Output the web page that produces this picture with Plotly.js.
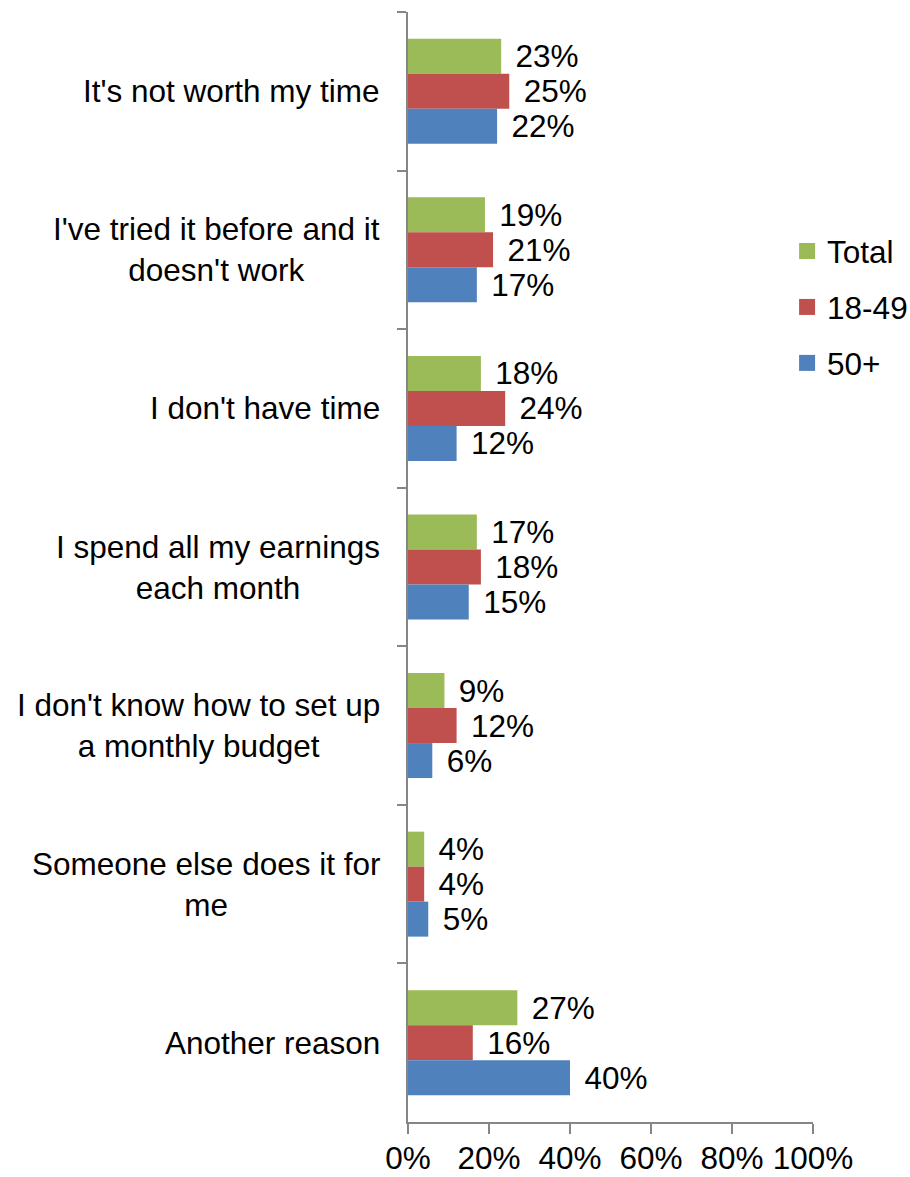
<!DOCTYPE html>
<html>
<head>
<meta charset="utf-8">
<script src="https://cdn.plot.ly/plotly-3.0.1.min.js"></script>
<style>
  html, body { margin: 0; padding: 0; background: #ffffff; }
  #chart { width: 910px; height: 1177px; }
</style>
</head>
<body>
<div id="chart"></div>
<script>
const categories = [
  "It's not worth my time",
  "I've tried it before and it<br>doesn't work",
  "I don't have time",
  "I spend all my earnings<br>each month",
  "I don't know how to set up<br>a monthly budget",
  "Someone else does it for<br>me",
  "Another reason"
];
const seriesNames = ["Total", "18-49", "50+"];
const totalValues = [23, 19, 18, 17, 9, 4, 27];
const age1849Values = [25, 21, 24, 18, 12, 4, 16];
const age50Values = [22, 17, 12, 15, 6, 5, 40];
const xTickValues = [0, 20, 40, 60, 80, 100];
const xTickLabels = ["0%", "20%", "40%", "60%", "80%", "100%"];

const colors = ["#9BBB59", "#C0504D", "#4F81BD"];
const allValues = [totalValues, age1849Values, age50Values];
const FONT = "'Liberation Sans', Arial, sans-serif";
const FS = 31.5;

const traces = [];
allValues.forEach((vals, i) => {
  traces.push({
    type: "bar",
    orientation: "h",
    name: seriesNames[i],
    x: vals,
    y: categories,
    marker: { color: colors[i], line: { width: 0 } },
    text: vals.map(v => v + "%"),
    texttemplate: "\u00a0\u200a%{text}",
    textposition: "outside",
    constraintext: "none",
    cliponaxis: false,
    textfont: { family: FONT, size: FS, color: "#000000" },
    showlegend: false,
    hoverinfo: "skip"
  });
});
// legend-only entries
seriesNames.forEach((n, i) => {
  traces.push({
    type: "scatter",
    mode: "markers",
    name: n,
    x: [null],
    y: [null],
    legendgroup: "g" + i,
    marker: { color: colors[i], symbol: "square", size: 17 },
    showlegend: true,
    hoverinfo: "skip"
  });
});

const annotations = categories.map(c => ({
  xref: "paper",
  yref: "y",
  x: 0,
  y: c,
  xanchor: "right",
  yanchor: "middle",
  xshift: -26,
  align: "center",
  showarrow: false,
  text: c,
  font: { family: FONT, size: FS, color: "#000000" }
}));

const layout = {
  width: 910,
  height: 1177,
  margin: { l: 408, r: 97, t: 12, b: 55, pad: 0, autoexpand: false },
  paper_bgcolor: "#ffffff",
  plot_bgcolor: "#ffffff",
  barmode: "group",
  bargap: 0.338,
  bargroupgap: 0,
  font: { family: FONT, size: FS, color: "#000000" },
  xaxis: {
    range: [0, 100],
    tickvals: xTickValues,
    ticktext: xTickLabels,
    showgrid: false,
    zeroline: false,
    showline: true,
    linecolor: "#868686",
    linewidth: 2,
    ticks: "outside",
    ticklen: 10,
    tickwidth: 2,
    tickcolor: "#868686",
    ticklabelstandoff: -3,
    tickfont: { family: FONT, size: FS, color: "#000000" },
    automargin: false,
    fixedrange: true
  },
  yaxis: {
    type: "category",
    range: [6.5, -0.5],
    showgrid: false,
    zeroline: false,
    showline: true,
    linecolor: "#868686",
    linewidth: 2,
    ticks: "outside",
    tickson: "boundaries",
    ticklen: 9,
    tickwidth: 2,
    tickcolor: "#868686",
    showticklabels: false,
    automargin: false,
    fixedrange: true
  },
  legend: {
    x: 0.936,
    xanchor: "left",
    y: 0.809,
    yanchor: "top",
    traceorder: "grouped",
    tracegroupgap: 12,
    font: { family: FONT, size: FS, color: "#000000" },
    bgcolor: "rgba(0,0,0,0)",
    itemsizing: "trace"
  },
  annotations: annotations,
  showlegend: true
};

Plotly.newPlot("chart", traces, layout, { displayModeBar: false, staticPlot: true });
</script>
</body>
</html>
